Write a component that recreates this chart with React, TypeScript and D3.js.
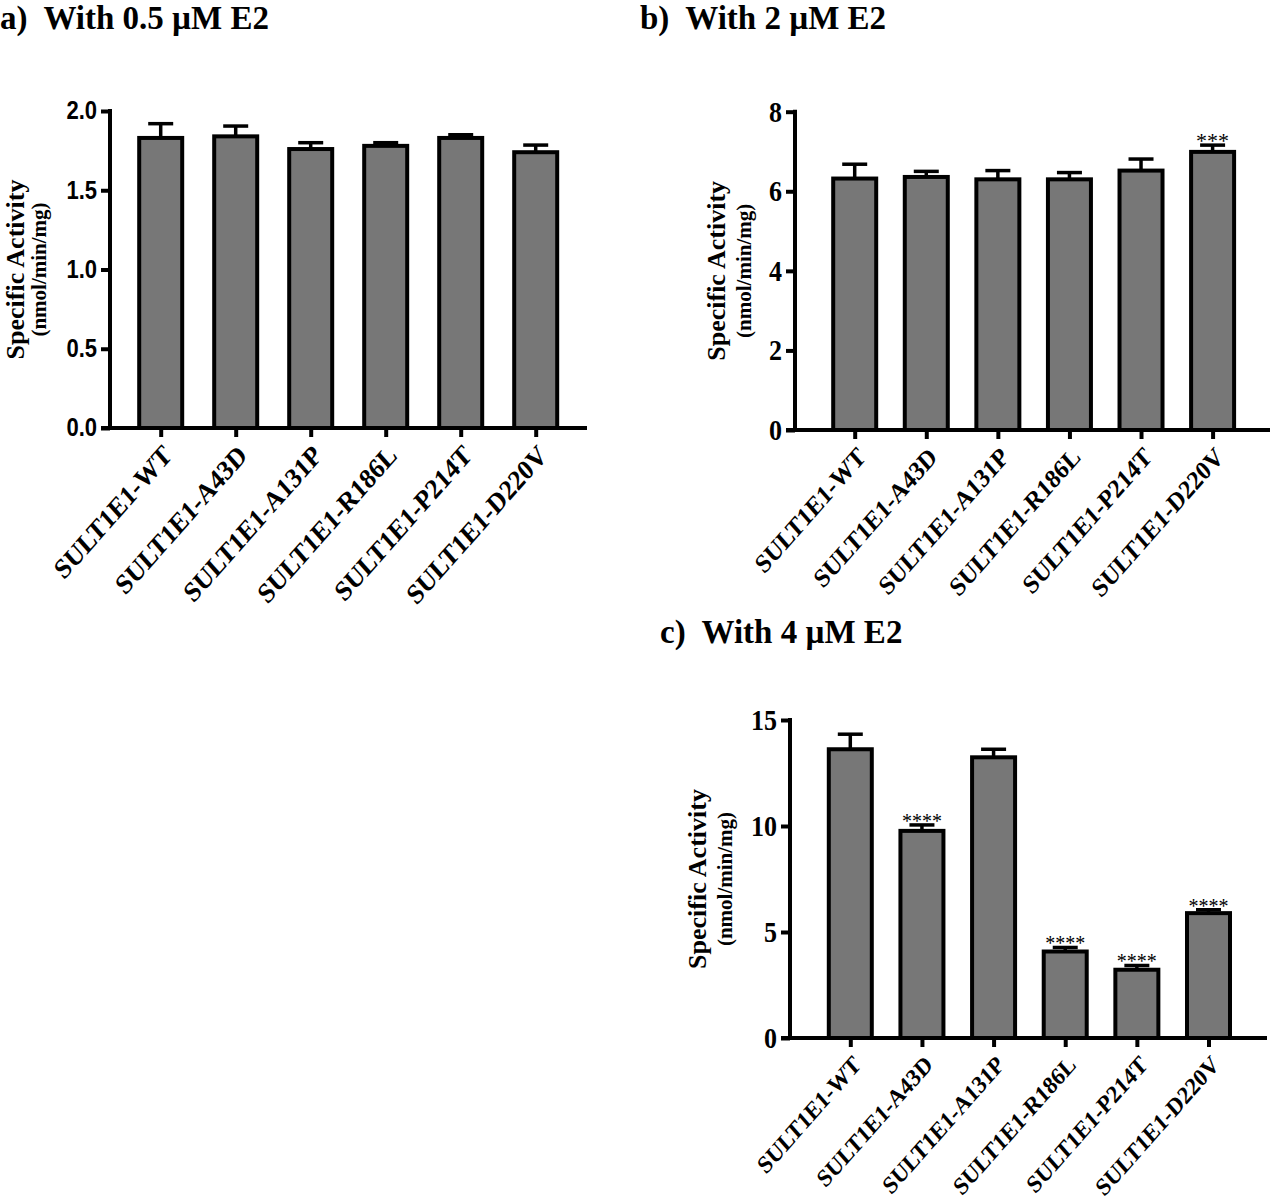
import { useEffect, useRef } from 'react'
import * as d3 from 'd3'

// categories shared by all three panels
const categories = [
  'SULT1E1-WT',
  'SULT1E1-A43D',
  'SULT1E1-A131P',
  'SULT1E1-R186L',
  'SULT1E1-P214T',
  'SULT1E1-D220V',
]

// a) 0.5 uM E2
const meanA = [1.83, 1.84, 1.76, 1.78, 1.83, 1.74]
const semA = [0.09, 0.065, 0.04, 0.02, 0.02, 0.045]
const ticksA = [0, 0.5, 1.0, 1.5, 2.0]

// b) 2 uM E2
const meanB = [6.32, 6.36, 6.3, 6.3, 6.52, 6.99]
const semB = [0.36, 0.14, 0.22, 0.17, 0.29, 0.17]
const sigB = ['', '', '', '', '', '***']
const ticksB = [0, 2, 4, 6, 8]

// c) 4 uM E2
const meanC = [13.62, 9.77, 13.24, 4.08, 3.22, 5.89]
const semC = [0.71, 0.28, 0.38, 0.19, 0.2, 0.16]
const sigC = ['', '****', '', '****', '****', '****']
const ticksC = [0, 5, 10, 15]

const SERIF = "'Liberation Serif', 'Times New Roman', serif"
const SANS = "'Liberation Sans', Arial, sans-serif"

// the chart images in the reference are a little taller than wide
const STRETCH = 1.13

function drawPanel(svg, p) {
  const g = svg.append('g')

  const x = d3.scalePoint()
    .domain(categories)
    .range([p.first, p.last])

  const y = d3.scaleLinear()
    .domain([0, p.max])
    .range([p.y0, p.yTop])

  const rows = categories.map((c, i) => ({ c, v: p.mean[i], e: p.sem[i], s: p.sig ? p.sig[i] : '' }))
  const bw = 43

  // bars
  g.selectAll('.bar')
    .data(rows)
    .enter()
    .append('rect')
    .attr('x', d => x(d.c) - bw / 2)
    .attr('y', d => y(d.v))
    .attr('width', bw)
    .attr('height', d => y(0) - y(d.v))
    .attr('fill', '#777777')
    .attr('stroke', '#000')
    .attr('stroke-width', 4)

  // error bars (upper only)
  g.selectAll('.err')
    .data(rows)
    .enter()
    .append('line')
    .attr('x1', d => x(d.c))
    .attr('x2', d => x(d.c))
    .attr('y1', d => y(d.v))
    .attr('y2', d => y(d.v + d.e))
    .attr('stroke', '#000')
    .attr('stroke-width', 3.5)

  g.selectAll('.cap')
    .data(rows)
    .enter()
    .append('line')
    .attr('x1', d => x(d.c) - 12.5)
    .attr('x2', d => x(d.c) + 12.5)
    .attr('y1', d => y(d.v + d.e))
    .attr('y2', d => y(d.v + d.e))
    .attr('stroke', '#000')
    .attr('stroke-width', 3.5)

  // significance stars
  g.selectAll('.sig')
    .data(rows.filter(d => d.s))
    .enter()
    .append('text')
    .attr('x', d => x(d.c))
    .attr('y', d => y(d.v + d.e) + 3)
    .attr('text-anchor', 'middle')
    .attr('font-family', SERIF)
    .attr('font-size', p.starSize)
    .text(d => d.s)

  // axes
  const yAxis = g.append('g')
    .attr('transform', `translate(${p.axisX},0)`)
    .call(d3.axisLeft(y).tickValues(p.ticks).tickFormat(d3.format(p.fmt)).tickSize(9).tickSizeOuter(0))
  yAxis.select('.domain').attr('stroke-width', 4).attr('d', `M0,${p.y0 + 2}V${p.yTop - 2}`)
  yAxis.selectAll('.tick line').attr('stroke-width', 4)
  yAxis.selectAll('.tick text')
    .attr('font-family', p.tickFont)
    .attr('font-weight', 'bold')
    .attr('font-size', p.tickSize)
    .attr('fill', '#000')
    .attr('x', -13)
    .attr('transform', `scale(1,${STRETCH})`)

  const xAxis = g.append('g')
    .attr('transform', `translate(0,${p.y0})`)
    .call(d3.axisBottom(x).tickSize(9).tickSizeOuter(0))
  xAxis.select('.domain').attr('stroke-width', 4).attr('d', `M${p.axisX - 9},0H${p.xEnd}`)
  xAxis.selectAll('.tick line').attr('stroke-width', 4)
  xAxis.selectAll('.tick text')
    .attr('font-family', SERIF)
    .attr('font-weight', 'bold')
    .attr('font-size', p.labelSize)
    .attr('fill', '#000')
    .attr('text-anchor', 'end')
    .attr('dy', '0.35em')
    .attr('transform', `translate(6,22) scale(1,${STRETCH}) rotate(-45)`)
    .attr('y', 0)

  // y axis title
  const cy = (p.y0 + p.yTop) / 2
  g.append('text')
    .attr('transform', `translate(${p.axisX - p.t1},${cy}) rotate(-90)`)
    .attr('text-anchor', 'middle')
    .attr('font-family', SERIF)
    .attr('font-weight', 'bold')
    .attr('font-size', 26)
    .text('Specific Activity')
  g.append('text')
    .attr('transform', `translate(${p.axisX - p.t2},${cy}) rotate(-90)`)
    .attr('text-anchor', 'middle')
    .attr('font-family', SERIF)
    .attr('font-weight', 'bold')
    .attr('font-size', 21)
    .text('(nmol/min/mg)')

  // panel title
  g.append('text')
    .attr('x', p.titleX)
    .attr('y', p.titleY)
    .attr('font-family', SERIF)
    .attr('font-weight', 'bold')
    .attr('font-size', 33)
    .style('white-space', 'pre')
    .text(p.title)
}

function App() {
  const ref = useRef(null)

  useEffect(() => {
    if (!ref.current) return
    d3.select(ref.current).selectAll('*').remove()

    const svg = d3.select(ref.current)
      .append('svg')
      .attr('width', 1277)
      .attr('height', 1202)
      .style('display', 'block')
      .style('background', '#fff')

    drawPanel(svg, {
      title: 'a)  With 0.5 µM E2', titleX: 0, titleY: 29,
      mean: meanA, sem: semA, ticks: ticksA, max: 2, fmt: '.1f',
      axisX: 110, y0: 428, yTop: 111, first: 160.7, last: 535.7, xEnd: 587,
      tickFont: SANS, tickSize: 22, labelSize: 25, t1: 86, t2: 64, starSize: 21,
    })
    drawPanel(svg, {
      title: 'b)  With 2 µM E2', titleX: 640, titleY: 29,
      mean: meanB, sem: semB, sig: sigB, ticks: ticksB, max: 8, fmt: 'd',
      axisX: 795, y0: 430, yTop: 111.7, first: 854.7, last: 1212.6, xEnd: 1270,
      tickFont: SERIF, tickSize: 26, labelSize: 23.5, t1: 70, t2: 44, starSize: 22,
    })
    drawPanel(svg, {
      title: 'c)  With 4 µM E2', titleX: 660, titleY: 643,
      mean: meanC, sem: semC, sig: sigC, ticks: ticksC, max: 15, fmt: 'd',
      axisX: 790, y0: 1038, yTop: 720, first: 850.3, last: 1208.5, xEnd: 1267,
      tickFont: SERIF, tickSize: 26, labelSize: 22, t1: 84, t2: 58, starSize: 20,
    })
  }, [])

  return (
    <>
      <style>{`body { margin: 0; }`}</style>
      <div ref={ref} />
    </>
  )
}

export default App
